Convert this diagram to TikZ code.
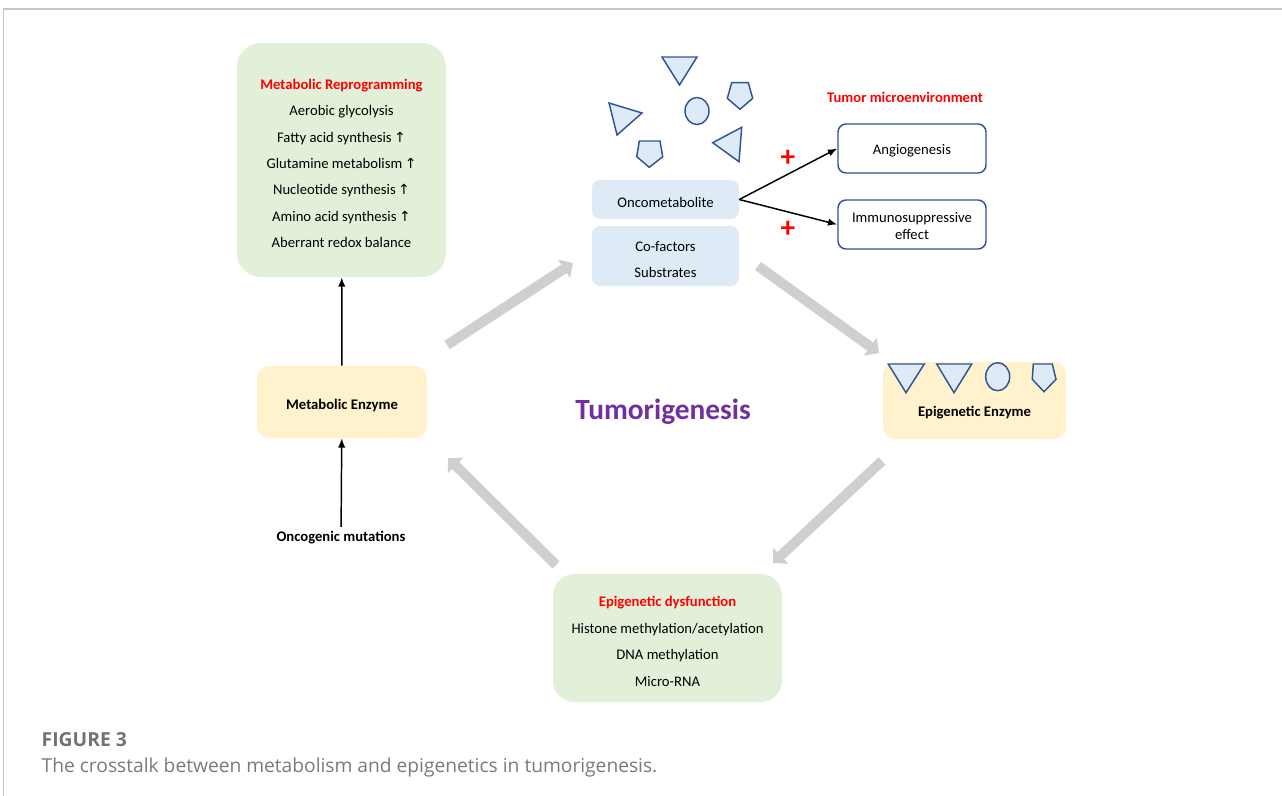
\documentclass[tikz,border=0pt]{standalone}
\usepackage{fontspec}
\setmainfont{Carlito}
\newfontfamily\capfont{Open Sans}
\newfontfamily\symfont{DejaVu Sans}
\usetikzlibrary{arrows.meta}
\definecolor{boxgreen}{HTML}{E2F0D9}
\definecolor{boxyellow}{HTML}{FFF2CC}
\definecolor{boxblue}{HTML}{DEEBF7}
\definecolor{edgeblue}{HTML}{2F5597}
\definecolor{fatgray}{RGB}{208,206,206}
\definecolor{tumorpurple}{HTML}{7030A0}
\definecolor{capgray}{HTML}{595959}
\newcommand{\up}{\,{\symfont\fontsize{10.5}{10.5}\selectfont ↑}}
\newcommand{\sink}{\rule{0pt}{12.8pt}}

\begin{document}
\begin{tikzpicture}[x=0.75pt,y=-0.75pt,
  txt/.style={font=\fontsize{11}{19.8}\selectfont, align=center, text=black},
  head/.style={font=\fontsize{11}{19.8}\selectfont\bfseries, text=red},
  greenbox/.style={txt, fill=boxgreen, rounded corners=18pt, inner sep=0pt},
  yellowbox/.style={txt, fill=boxyellow, rounded corners=9pt, inner sep=0pt},
  bluebox/.style={txt, fill=boxblue, rounded corners=6pt, inner sep=0pt},
  tmebox/.style={txt, draw=edgeblue, line width=1.1pt, fill=white, rounded corners=6pt, inner sep=0pt,
    minimum width=111pt, minimum height=36.75pt},
  molecule/.style={draw=edgeblue, fill=boxblue, line width=1.1pt, line join=miter},
  fat/.style={draw=fatgray, line width=7.5pt, -{Triangle[length=8pt,width=16pt]}},
  thin/.style={draw=black, line width=1.1pt, -{Latex[length=7pt,width=5.5pt]}},
  plus/.style={text=red, font=\fontsize{22}{22}\selectfont\bfseries, inner sep=0pt}
]
  \useasboundingbox (0,0) rectangle (1282,796);
  \draw[gray!45, line width=1.5pt] (3,9) -- (1282,9);
  \draw[gray!45, line width=0.7pt] (3,9) -- (3,796);

  % metabolism side
  \node[greenbox, minimum width=156.75pt, minimum height=175.5pt] (MR) at (341.5,160) {%
    \sink{\bfseries\color{red}Metabolic Reprogramming}\\
    Aerobic glycolysis\\
    Fatty acid synthesis\up\\
    Glutamine metabolism\up\\
    Nucleotide synthesis\up\\
    Amino acid synthesis\up\\
    Aberrant redox balance};
  \node[yellowbox, minimum width=127.5pt, minimum height=54pt, font=\fontsize{11}{19.8}\selectfont\bfseries] (ME) at (342,402) {\sink Metabolic Enzyme};
  \node[txt, font=\fontsize{11}{19.8}\selectfont\bfseries] (OG) at (341,538) {Oncogenic mutations};
  \draw[thin] (ME) -- (MR);
  \draw[thin] (OG) -- (ME);

  % metabolites
  \node[bluebox, minimum width=110.25pt, minimum height=29.25pt] (OM) at (665.5,199.5) {\sink Oncometabolite};
  \node[bluebox, minimum width=110.25pt, minimum height=45pt] (CF) at (665.5,256) {\sink Co-factors\\Substrates};
  \draw[molecule] (662,57) -- (697,57) -- (679.5,85) -- cycle;
  \draw[molecule] (697,111) ellipse [x radius=12, y radius=13.5];
  \draw[molecule] (731.7,82.7) -- (748.3,82.7) -- (752.7,98.3) -- (740,109.3) -- (727.3,98.3) -- cycle;
  \draw[molecule] (639.3,141) -- (660,141) -- (662.7,156.7) -- (649.3,167.3) -- (636.7,156.7) -- cycle;
  \draw[molecule] (609,103) -- (642,113) -- (617,135) -- cycle;
  \draw[molecule] (741.7,127.3) -- (712.7,142.7) -- (739,161.7) -- cycle;

  % tumor microenvironment
  \node[head] (TME) at (905,97) {Tumor microenvironment};
  \node[tmebox] (AN) at (912,148.5) {\rule{0pt}{10.5pt}Angiogenesis};
  \node[tmebox, font=\fontsize{11}{12.8}\selectfont] (IM) at (912,224.5) {\rule{0pt}{10pt}Immunosuppressive\\effect};
  \draw[thin] (OM.east) -- (AN.west);
  \draw[thin] (OM.east) -- (IM.west);
  \node[plus] (P1) at (788,158) {+};
  \node[plus] (P2) at (788,229) {+};

  % epigenetics side
  \node[yellowbox, minimum width=137.25pt, minimum height=57.75pt] (EE) at (974.5,400.5) {};
  \node[txt, font=\fontsize{11}{19.8}\selectfont\bfseries] (EEt) at (974.5,413) {Epigenetic Enzyme};
  \draw[molecule] (888.3,364) -- (924.3,364) -- (906,392.7) -- cycle;
  \draw[molecule] (936.7,364) -- (971.7,364) -- (954,392.7) -- cycle;
  \draw[molecule] (997.7,376.7) ellipse [x radius=12, y radius=14];
  \draw[molecule] (1033.3,364) -- (1052.3,364) -- (1056,379.3) -- (1044,391.7) -- (1032.3,379.3) -- cycle;
  \node[greenbox, rounded corners=16pt, minimum width=171.75pt, minimum height=96pt] (ED) at (667.5,638) {%
    \sink{\bfseries\color{red}Epigenetic dysfunction}\\
    Histone methylation/acetylation\\
    DNA methylation\\
    Micro-RNA};

  \node[font=\fontsize{22}{22}\selectfont\bfseries, text=tumorpurple] (TG) at (663,412) {Tumorigenesis};

  % cycle arrows
  \coordinate (a1) at (447,345); \coordinate (a2) at (573,263);
  \coordinate (b1) at (758,266); \coordinate (b2) at (879,353);
  \coordinate (c1) at (882,461); \coordinate (c2) at (773,563);
  \coordinate (d1) at (556,565); \coordinate (d2) at (448,458);
  \draw[fat] (a1) -- (a2);
  \draw[fat] (b1) -- (b2);
  \draw[fat] (c1) -- (c2);
  \draw[fat] (d1) -- (d2);

  % caption
  \node[anchor=west, font=\capfont\fontsize{14.5}{14.5}\selectfont\bfseries, text=capgray!85] (FG) at (37,740) {FIGURE 3};
  \node[anchor=west, font=\capfont\fontsize{14.4}{14.4}\selectfont, text=capgray!80] (CP) at (37,768) {The crosstalk between metabolism and epigenetics in tumorigenesis.};
\end{tikzpicture}
\end{document}
